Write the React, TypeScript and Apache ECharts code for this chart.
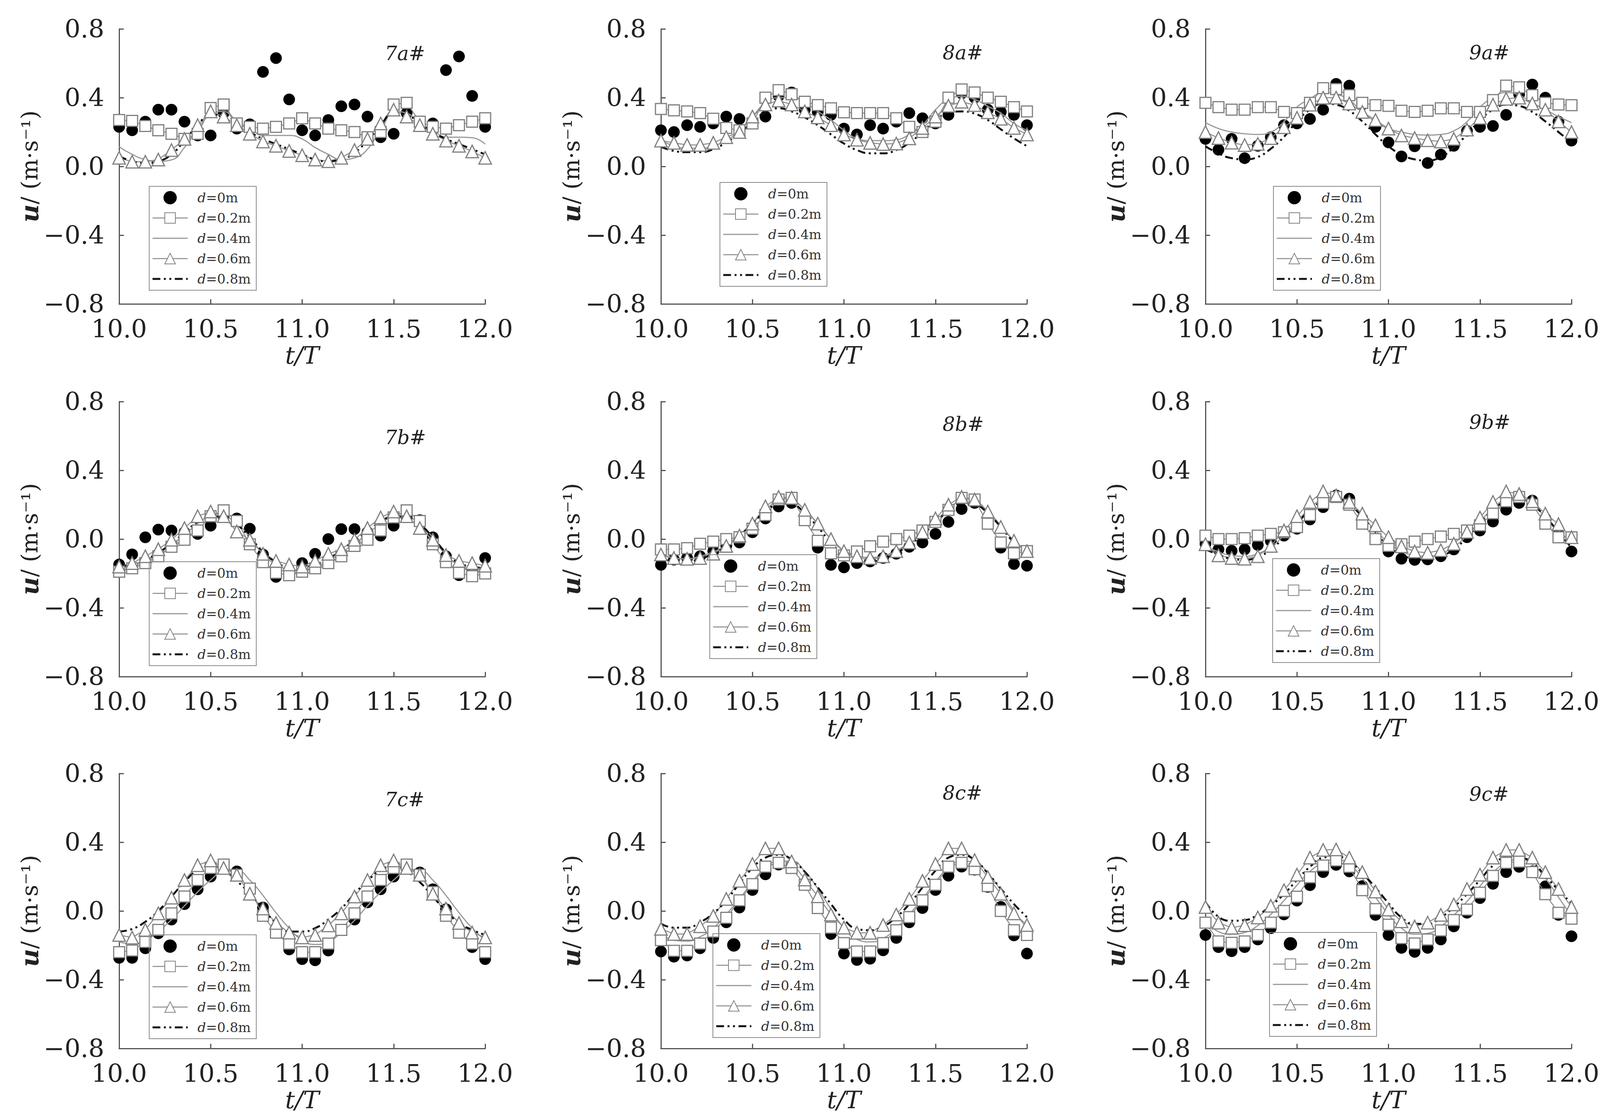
import React, { useEffect, useRef } from "react";
import * as echarts from "echarts";

// ---------- data ----------
const TIMES = [10.0, 10.071, 10.143, 10.214, 10.286, 10.357, 10.429, 10.5, 10.571, 10.643, 10.714, 10.786, 10.857, 10.929, 11.0, 11.071, 11.143, 11.214, 11.286, 11.357, 11.429, 11.5, 11.571, 11.643, 11.714, 11.786, 11.857, 11.929, 12.0];
const SERIES_NAMES = ["d=0m", "d=0.2m", "d=0.4m", "d=0.6m", "d=0.8m"];
const PANEL_LABELS = ["7a#", "8a#", "9a#", "7b#", "8b#", "9b#", "7c#", "8c#", "9c#"];

const P7A_D0 = [0.23, 0.21, 0.26, 0.33, 0.33, 0.26, 0.18, 0.18, 0.31, 0.22, 0.245, 0.55, 0.63, 0.39, 0.21, 0.18, 0.27, 0.35, 0.36, 0.29, 0.17, 0.19, 0.31, 0.24, 0.25, 0.56, 0.64, 0.41, 0.23];
const P7A_D02 = [0.27, 0.265, 0.235, 0.21, 0.19, 0.16, 0.19, 0.34, 0.36, 0.25, 0.23, 0.22, 0.23, 0.25, 0.28, 0.25, 0.22, 0.21, 0.2, 0.17, 0.2, 0.36, 0.37, 0.26, 0.23, 0.22, 0.24, 0.26, 0.28];
const P7A_D04 = [0.114, 0.07, 0.04, 0.03, 0.038, 0.11, 0.22, 0.3, 0.32, 0.25, 0.22, 0.18, 0.18, 0.18, 0.16, 0.11, 0.07, 0.04, 0.05, 0.1, 0.22, 0.32, 0.31, 0.25, 0.21, 0.17, 0.17, 0.167, 0.13];
const P7A_D06 = [0.05, 0.027, 0.027, 0.04, 0.095, 0.16, 0.24, 0.32, 0.29, 0.24, 0.19, 0.145, 0.12, 0.09, 0.065, 0.04, 0.03, 0.05, 0.095, 0.16, 0.25, 0.33, 0.29, 0.24, 0.19, 0.15, 0.12, 0.087, 0.05];
const P7A_D08 = [0.06, 0.03, 0.02, 0.03, 0.07, 0.15, 0.24, 0.3, 0.3, 0.25, 0.2, 0.16, 0.13, 0.1, 0.07, 0.04, 0.03, 0.04, 0.08, 0.15, 0.24, 0.31, 0.3, 0.25, 0.2, 0.16, 0.13, 0.1, 0.07];

const P8A_D0 = [0.21, 0.2, 0.24, 0.23, 0.25, 0.29, 0.276, 0.25, 0.29, 0.41, 0.43, 0.33, 0.317, 0.3, 0.22, 0.186, 0.24, 0.22, 0.26, 0.31, 0.28, 0.25, 0.3, 0.425, 0.4, 0.33, 0.317, 0.3, 0.24];
const P8A_D02 = [0.334, 0.326, 0.32, 0.31, 0.277, 0.224, 0.21, 0.25, 0.4, 0.444, 0.42, 0.376, 0.357, 0.338, 0.315, 0.31, 0.31, 0.31, 0.28, 0.23, 0.2, 0.26, 0.4, 0.448, 0.43, 0.4, 0.376, 0.345, 0.32];
const P8A_D04 = [0.15, 0.12, 0.105, 0.105, 0.12, 0.15, 0.21, 0.29, 0.37, 0.4, 0.4, 0.37, 0.32, 0.27, 0.21, 0.163, 0.15, 0.15, 0.155, 0.186, 0.24, 0.33, 0.39, 0.406, 0.39, 0.35, 0.31, 0.25, 0.21];
const P8A_D06 = [0.15, 0.137, 0.125, 0.125, 0.137, 0.17, 0.2, 0.29, 0.36, 0.383, 0.36, 0.32, 0.285, 0.24, 0.186, 0.155, 0.137, 0.13, 0.133, 0.163, 0.224, 0.29, 0.353, 0.376, 0.357, 0.315, 0.277, 0.224, 0.186];
const P8A_D08 = [0.114, 0.09, 0.083, 0.083, 0.1, 0.14, 0.19, 0.26, 0.315, 0.338, 0.32, 0.285, 0.24, 0.186, 0.133, 0.095, 0.076, 0.076, 0.095, 0.137, 0.2, 0.27, 0.31, 0.32, 0.307, 0.27, 0.216, 0.163, 0.118];

const P9A_D0 = [0.16, 0.097, 0.16, 0.048, 0.12, 0.17, 0.24, 0.25, 0.276, 0.33, 0.48, 0.47, 0.36, 0.23, 0.14, 0.058, 0.117, 0.02, 0.069, 0.12, 0.207, 0.23, 0.235, 0.3, 0.42, 0.476, 0.4, 0.26, 0.15];
const P9A_D02 = [0.37, 0.345, 0.33, 0.33, 0.345, 0.345, 0.317, 0.31, 0.37, 0.455, 0.45, 0.414, 0.37, 0.356, 0.352, 0.324, 0.317, 0.324, 0.338, 0.338, 0.317, 0.317, 0.386, 0.47, 0.46, 0.414, 0.37, 0.36, 0.356];
const P9A_D04 = [0.255, 0.22, 0.2, 0.19, 0.186, 0.2, 0.26, 0.345, 0.393, 0.43, 0.42, 0.386, 0.317, 0.26, 0.22, 0.2, 0.186, 0.182, 0.186, 0.207, 0.26, 0.345, 0.4, 0.43, 0.414, 0.37, 0.33, 0.29, 0.255];
const P9A_D06 = [0.2, 0.165, 0.138, 0.124, 0.131, 0.165, 0.228, 0.283, 0.359, 0.4, 0.4, 0.366, 0.317, 0.27, 0.22, 0.18, 0.165, 0.152, 0.145, 0.16, 0.214, 0.283, 0.359, 0.393, 0.4, 0.366, 0.33, 0.262, 0.2];
const P9A_D08 = [0.117, 0.076, 0.048, 0.041, 0.055, 0.103, 0.172, 0.262, 0.33, 0.366, 0.359, 0.324, 0.262, 0.186, 0.117, 0.069, 0.041, 0.034, 0.055, 0.11, 0.186, 0.269, 0.33, 0.359, 0.352, 0.317, 0.262, 0.2, 0.138];

const P7B_D0 = [-0.148, -0.089, 0.01, 0.055, 0.05, 0.04, 0.03, 0.078, 0.13, 0.12, 0.06, -0.09, -0.22, -0.19, -0.14, -0.086, 0.0, 0.058, 0.058, 0.04, 0.02, 0.078, 0.13, 0.11, 0.01, -0.1, -0.21, -0.19, -0.11];
const P7B_D02 = [-0.19, -0.17, -0.14, -0.1, -0.045, -0.004, 0.05, 0.133, 0.167, 0.105, -0.03, -0.134, -0.196, -0.21, -0.19, -0.17, -0.14, -0.1, -0.04, -0.004, 0.05, 0.126, 0.167, 0.105, -0.03, -0.134, -0.196, -0.216, -0.2];
const P7B_D04 = [-0.17, -0.155, -0.127, -0.086, -0.03, 0.023, 0.09, 0.126, 0.126, 0.09, 0.01, -0.086, -0.148, -0.175, -0.18, -0.16, -0.127, -0.08, -0.025, 0.03, 0.09, 0.126, 0.126, 0.085, 0.01, -0.086, -0.155, -0.18, -0.19];
const P7B_D06 = [-0.16, -0.14, -0.1, -0.059, -0.004, 0.064, 0.133, 0.16, 0.133, 0.044, -0.004, -0.086, -0.127, -0.148, -0.16, -0.127, -0.086, -0.059, -0.004, 0.064, 0.126, 0.16, 0.133, 0.064, -0.004, -0.093, -0.127, -0.14, -0.155];
const P7B_D08 = [-0.16, -0.148, -0.12, -0.08, -0.025, 0.037, 0.1, 0.133, 0.126, 0.085, 0.01, -0.073, -0.134, -0.16, -0.16, -0.148, -0.114, -0.066, -0.011, 0.044, 0.1, 0.133, 0.126, 0.085, 0.01, -0.08, -0.14, -0.16, -0.17];

const P8B_D0 = [-0.15, -0.12, -0.11, -0.1, -0.07, -0.04, -0.02, 0.04, 0.12, 0.19, 0.21, 0.12, -0.05, -0.15, -0.165, -0.14, -0.13, -0.11, -0.085, -0.045, -0.02, 0.03, 0.1, 0.175, 0.21, 0.12, -0.05, -0.145, -0.155];
const P8B_D02 = [-0.06, -0.06, -0.053, -0.027, -0.015, 0.0, 0.011, 0.06, 0.14, 0.23, 0.24, 0.11, -0.01, -0.083, -0.095, -0.072, -0.042, -0.015, 0.0, 0.02, 0.05, 0.1, 0.17, 0.24, 0.23, 0.09, -0.02, -0.083, -0.07];
const P8B_D04 = [-0.09, -0.11, -0.115, -0.1, -0.075, -0.035, 0.02, 0.09, 0.17, 0.215, 0.22, 0.17, 0.09, 0.0, -0.07, -0.105, -0.115, -0.1, -0.07, -0.025, 0.03, 0.1, 0.175, 0.215, 0.215, 0.16, 0.08, -0.01, -0.07];
const P8B_D06 = [-0.09, -0.11, -0.115, -0.11, -0.085, -0.04, 0.02, 0.09, 0.19, 0.245, 0.24, 0.17, 0.09, 0.0, -0.07, -0.1, -0.11, -0.1, -0.07, -0.02, 0.04, 0.12, 0.2, 0.245, 0.23, 0.16, 0.07, -0.01, -0.07];
const P8B_D08 = [-0.11, -0.13, -0.13, -0.115, -0.085, -0.04, 0.02, 0.09, 0.16, 0.2, 0.2, 0.15, 0.07, -0.02, -0.09, -0.125, -0.13, -0.115, -0.08, -0.035, 0.025, 0.095, 0.165, 0.205, 0.2, 0.15, 0.07, -0.02, -0.09];

const P9B_D0 = [-0.027, -0.06, -0.068, -0.06, -0.034, -0.011, 0.02, 0.06, 0.114, 0.186, 0.254, 0.235, 0.12, 0.0, -0.072, -0.114, -0.121, -0.118, -0.1, -0.06, 0.011, 0.05, 0.102, 0.171, 0.21, 0.224, 0.12, 0.03, -0.072];
const P9B_D02 = [0.02, 0.0, 0.0, 0.005, 0.02, 0.03, 0.04, 0.07, 0.14, 0.21, 0.245, 0.2, 0.09, 0.0, -0.04, -0.03, -0.015, 0.0, 0.015, 0.03, 0.05, 0.08, 0.15, 0.22, 0.245, 0.2, 0.09, 0.01, 0.01];
const P9B_D04 = [-0.04, -0.075, -0.095, -0.1, -0.085, -0.045, 0.02, 0.1, 0.18, 0.23, 0.24, 0.2, 0.13, 0.05, -0.02, -0.07, -0.095, -0.1, -0.085, -0.045, 0.02, 0.1, 0.18, 0.23, 0.24, 0.2, 0.13, 0.05, -0.02];
const P9B_D06 = [-0.03, -0.095, -0.11, -0.114, -0.1, -0.04, 0.05, 0.133, 0.216, 0.277, 0.254, 0.216, 0.148, 0.08, 0.011, -0.042, -0.072, -0.08, -0.065, -0.027, 0.042, 0.125, 0.216, 0.277, 0.262, 0.22, 0.148, 0.087, 0.011];
const P9B_D08 = [-0.06, -0.09, -0.115, -0.12, -0.105, -0.06, 0.01, 0.09, 0.17, 0.22, 0.235, 0.2, 0.13, 0.04, -0.04, -0.09, -0.115, -0.12, -0.1, -0.06, 0.01, 0.09, 0.17, 0.22, 0.235, 0.2, 0.13, 0.04, -0.05];

const P7C_D0 = [-0.273, -0.273, -0.217, -0.13, -0.05, 0.04, 0.126, 0.2, 0.25, 0.23, 0.126, 0.02, -0.1, -0.224, -0.28, -0.287, -0.23, -0.11, -0.05, 0.05, 0.126, 0.2, 0.25, 0.224, 0.126, 0.01, -0.1, -0.21, -0.28];
const P7C_D02 = [-0.24, -0.23, -0.18, -0.11, -0.014, 0.084, 0.18, 0.25, 0.27, 0.21, 0.13, -0.028, -0.126, -0.19, -0.24, -0.24, -0.19, -0.11, -0.014, 0.084, 0.18, 0.25, 0.27, 0.21, 0.11, -0.028, -0.126, -0.19, -0.24];
const P7C_D04 = [-0.18, -0.19, -0.17, -0.12, -0.05, 0.03, 0.11, 0.18, 0.23, 0.235, 0.18, 0.09, -0.01, -0.1, -0.17, -0.195, -0.18, -0.125, -0.055, 0.03, 0.11, 0.18, 0.23, 0.235, 0.18, 0.09, -0.01, -0.1, -0.17];
const P7C_D06 = [-0.14, -0.155, -0.11, -0.014, 0.077, 0.18, 0.266, 0.294, 0.25, 0.21, 0.1, 0.014, -0.07, -0.126, -0.154, -0.14, -0.084, -0.014, 0.084, 0.18, 0.266, 0.294, 0.25, 0.21, 0.1, 0.014, -0.07, -0.126, -0.154];
const P7C_D08 = [-0.12, -0.105, -0.063, 0.0, 0.084, 0.168, 0.238, 0.26, 0.238, 0.175, 0.1, 0.014, -0.07, -0.12, -0.12, -0.1, -0.05, 0.014, 0.1, 0.175, 0.238, 0.26, 0.23, 0.168, 0.084, 0.0, -0.07, -0.11, -0.14];

const P8C_D0 = [-0.236, -0.266, -0.259, -0.217, -0.157, -0.066, 0.02, 0.122, 0.213, 0.27, 0.26, 0.16, 0.04, -0.134, -0.248, -0.285, -0.278, -0.229, -0.157, -0.066, 0.017, 0.122, 0.205, 0.258, 0.24, 0.14, 0.024, -0.142, -0.248];
const P8C_D02 = [-0.17, -0.232, -0.232, -0.19, -0.12, -0.04, 0.062, 0.156, 0.258, 0.28, 0.25, 0.152, 0.017, -0.097, -0.187, -0.236, -0.236, -0.187, -0.112, -0.036, 0.062, 0.152, 0.258, 0.28, 0.243, 0.145, 0.0, -0.112, -0.14];
const P8C_D04 = [-0.13, -0.17, -0.175, -0.15, -0.1, -0.02, 0.07, 0.17, 0.25, 0.29, 0.29, 0.23, 0.13, 0.01, -0.1, -0.165, -0.18, -0.16, -0.1, -0.02, 0.07, 0.17, 0.25, 0.29, 0.285, 0.22, 0.12, 0.0, -0.1];
const P8C_D06 = [-0.104, -0.134, -0.134, -0.089, -0.029, 0.07, 0.175, 0.273, 0.364, 0.364, 0.288, 0.183, 0.085, -0.021, -0.097, -0.127, -0.127, -0.082, -0.021, 0.07, 0.175, 0.273, 0.364, 0.364, 0.296, 0.197, 0.1, -0.014, -0.082];
const P8C_D08 = [-0.074, -0.097, -0.097, -0.066, -0.014, 0.062, 0.16, 0.25, 0.31, 0.326, 0.3, 0.228, 0.137, 0.04, -0.05, -0.104, -0.112, -0.09, -0.036, 0.04, 0.137, 0.235, 0.31, 0.326, 0.296, 0.22, 0.13, 0.04, -0.036];

const P9C_D0 = [-0.14, -0.21, -0.234, -0.21, -0.166, -0.1, -0.02, 0.06, 0.15, 0.226, 0.268, 0.23, 0.145, -0.023, -0.14, -0.215, -0.238, -0.215, -0.166, -0.09, -0.01, 0.075, 0.158, 0.226, 0.257, 0.23, 0.143, -0.023, -0.147];
const P9C_D02 = [-0.068, -0.177, -0.185, -0.177, -0.14, -0.068, 0.0, 0.083, 0.196, 0.264, 0.294, 0.257, 0.121, 0.011, -0.08, -0.158, -0.189, -0.166, -0.113, -0.053, 0.008, 0.106, 0.204, 0.28, 0.287, 0.226, 0.098, -0.011, -0.045];
const P9C_D04 = [-0.05, -0.12, -0.135, -0.125, -0.085, -0.02, 0.06, 0.15, 0.23, 0.28, 0.3, 0.27, 0.19, 0.08, -0.02, -0.1, -0.135, -0.13, -0.09, -0.025, 0.055, 0.145, 0.225, 0.28, 0.3, 0.27, 0.19, 0.08, -0.03];
const P9C_D06 = [0.023, -0.068, -0.098, -0.083, -0.038, 0.03, 0.121, 0.211, 0.31, 0.355, 0.358, 0.31, 0.226, 0.113, 0.008, -0.06, -0.09, -0.068, -0.023, 0.038, 0.128, 0.211, 0.31, 0.355, 0.355, 0.31, 0.226, 0.128, 0.023];
const P9C_D08 = [0.053, -0.034, -0.057, -0.053, -0.023, 0.03, 0.098, 0.18, 0.257, 0.31, 0.317, 0.287, 0.219, 0.136, 0.045, -0.038, -0.075, -0.075, -0.038, 0.023, 0.098, 0.18, 0.264, 0.31, 0.31, 0.28, 0.204, 0.121, 0.045];

const PANEL_VALUES = [
  [P7A_D0, P7A_D02, P7A_D04, P7A_D06, P7A_D08],
  [P8A_D0, P8A_D02, P8A_D04, P8A_D06, P8A_D08],
  [P9A_D0, P9A_D02, P9A_D04, P9A_D06, P9A_D08],
  [P7B_D0, P7B_D02, P7B_D04, P7B_D06, P7B_D08],
  [P8B_D0, P8B_D02, P8B_D04, P8B_D06, P8B_D08],
  [P9B_D0, P9B_D02, P9B_D04, P9B_D06, P9B_D08],
  [P7C_D0, P7C_D02, P7C_D04, P7C_D06, P7C_D08],
  [P8C_D0, P8C_D02, P8C_D04, P8C_D06, P8C_D08],
  [P9C_D0, P9C_D02, P9C_D04, P9C_D06, P9C_D08],
];

// ---------- layout ----------
const W = 4135;
const H = 2862;
const COL_LEFT = [305, 1692, 3086];
const ROW_TOP = [74, 1028, 1980];
const GRID_W = 937;
const GRID_H = 704;
const LEGEND_POS = [[382, 477], [1843, 467], [3260, 477], [382, 1438], [1817, 1420], [3258, 1430], [382, 2393], [1825, 2390], [3250, 2387]];
const LABEL_OFF = [[735, 68], [776, 66], [730, 66], [735, 97], [776, 63], [730, 58], [735, 72], [776, 55], [730, 58]];

const SERIF = "DejaVu Serif";
const AXIS_COLOR = "#555";
const TEXT_COLOR = "#222";

function buildOption() {
  const grid: any[] = [];
  const xAxis: any[] = [];
  const yAxis: any[] = [];
  const series: any[] = [];
  const legend: any[] = [];
  const graphic: any[] = [];

  const legendData = [
    { name: SERIES_NAMES[0] },
    { name: SERIES_NAMES[1], lineStyle: { width: 2.5 } },
    { name: SERIES_NAMES[2], itemStyle: { opacity: 0 }, lineStyle: { width: 3 } },
    { name: SERIES_NAMES[3], lineStyle: { width: 2.5 } },
    { name: SERIES_NAMES[4], itemStyle: { opacity: 0 }, lineStyle: { width: 5 } },
  ];

  PANEL_VALUES.forEach((vals, k) => {
    const c = k % 3;
    const r = Math.floor(k / 3);
    const left = COL_LEFT[c];
    const top = ROW_TOP[r];
    grid.push({ left, top, width: GRID_W, height: GRID_H });
    xAxis.push({
      type: "value",
      gridIndex: k,
      min: 10,
      max: 12,
      interval: 0.5,
      axisLine: { show: true, onZero: false, lineStyle: { color: AXIS_COLOR, width: 3 } },
      axisTick: { show: true, inside: true, length: 12, lineStyle: { color: AXIS_COLOR, width: 3 } },
      splitLine: { show: false },
      axisLabel: {
        formatter: (v: number) => v.toFixed(1),
        fontFamily: SERIF,
        fontSize: 64,
        color: TEXT_COLOR,
        margin: 32,
      },
      name: "t/T",
      nameLocation: "middle",
      nameGap: 100,
      nameTextStyle: { fontFamily: SERIF, fontStyle: "italic", fontSize: 62, color: TEXT_COLOR },
    });
    yAxis.push({
      type: "value",
      gridIndex: k,
      min: -0.8,
      max: 0.8,
      interval: 0.4,
      axisLine: { show: true, onZero: false, lineStyle: { color: AXIS_COLOR, width: 3 } },
      axisTick: { show: true, inside: true, length: 12, lineStyle: { color: AXIS_COLOR, width: 3 } },
      splitLine: { show: false },
      axisLabel: {
        formatter: (v: number) => (Math.abs(v) < 1e-9 ? "0.0" : (v < 0 ? "\u2212" : "") + Math.abs(v).toFixed(1)),
        fontFamily: SERIF,
        fontSize: 64,
        color: TEXT_COLOR,
        margin: 38,
      },
      name: "{u|u}{n|/ (m\u00b7s\u207b\u00b9)}",
      nameLocation: "middle",
      nameRotate: 90,
      nameGap: 196,
      nameTextStyle: {
        rich: {
          u: { fontFamily: SERIF, fontStyle: "italic", fontWeight: "bold", fontSize: 64, color: TEXT_COLOR },
          n: { fontFamily: SERIF, fontSize: 58, color: TEXT_COLOR },
        },
      },
    });

    const data = vals.map((arr) => TIMES.map((t, i) => [t, arr[i]]));
    series.push({
      name: SERIES_NAMES[0],
      type: "scatter",
      xAxisIndex: k,
      yAxisIndex: k,
      symbol: "circle",
      symbolSize: 30,
      itemStyle: { color: "#000", opacity: 1 },
      clip: false,
      data: data[0],
    });
    series.push({
      name: SERIES_NAMES[1],
      type: "line",
      xAxisIndex: k,
      yAxisIndex: k,
      symbol: "rect",
      symbolSize: 28,
      showAllSymbol: true,
      itemStyle: { color: "#fff", borderColor: "#808080", borderWidth: 3 },
      lineStyle: { color: "#8a8a8a", width: 2.5 },
      clip: false,
      data: data[1],
    });
    series.push({
      name: SERIES_NAMES[2],
      type: "line",
      xAxisIndex: k,
      yAxisIndex: k,
      symbol: "none",
      smooth: true,
      itemStyle: { color: "#999" },
      lineStyle: { color: "#999", width: 3 },
      clip: false,
      data: data[2],
    });
    series.push({
      name: SERIES_NAMES[3],
      type: "line",
      xAxisIndex: k,
      yAxisIndex: k,
      symbol: "triangle",
      symbolSize: 32,
      showAllSymbol: true,
      itemStyle: { color: "#fff", borderColor: "#808080", borderWidth: 3 },
      lineStyle: { color: "#8a8a8a", width: 2.5 },
      clip: false,
      data: data[3],
    });
    series.push({
      name: SERIES_NAMES[4],
      type: "line",
      xAxisIndex: k,
      yAxisIndex: k,
      symbol: "none",
      smooth: true,
      itemStyle: { color: "#111" },
      lineStyle: { color: "#111", width: 5, type: [20, 9, 5, 9, 5, 9] },
      clip: false,
      data: data[4],
    });

    legend.push({
      left: LEGEND_POS[k][0],
      top: LEGEND_POS[k][1],
      orient: "vertical",
      data: legendData,
      itemWidth: 90,
      itemHeight: 34,
      itemGap: 18,
      padding: [12, 14, 12, 6],
      borderColor: "#8a8a8a",
      borderWidth: 2,
      selectedMode: false,
      formatter: (name: string) => "{i|d}{n|" + name.slice(1) + "}",
      textStyle: {
        fontFamily: SERIF,
        fontSize: 34,
        color: "#333",
        rich: {
          i: { fontFamily: SERIF, fontStyle: "italic", fontSize: 34, color: "#333", padding: [0, 0, 0, 20] },
          n: { fontFamily: SERIF, fontSize: 34, color: "#333" },
        },
      },
    });

    graphic.push({
      type: "text",
      left: left + LABEL_OFF[k][0] - 55,
      top: top + LABEL_OFF[k][1] - 30,
      style: {
        text: PANEL_LABELS[k],
        fontFamily: SERIF,
        fontStyle: "italic",
        fontSize: 50,
        fill: TEXT_COLOR,
      },
    });
  });

  return {
    animation: false,
    backgroundColor: "#fff",
    grid,
    xAxis,
    yAxis,
    legend,
    series,
    graphic,
  };
}

export default function App() {
  const ref = useRef<HTMLDivElement>(null);
  useEffect(() => {
    if (!ref.current) return;
    const chart = echarts.init(ref.current, null, { renderer: "svg" });
    chart.setOption(buildOption() as any);
    return () => chart.dispose();
  }, []);
  return (
    <div
      ref={ref}
      style={{ position: "absolute", left: 0, top: 0, width: W, height: H, background: "#fff" }}
    />
  );
}
